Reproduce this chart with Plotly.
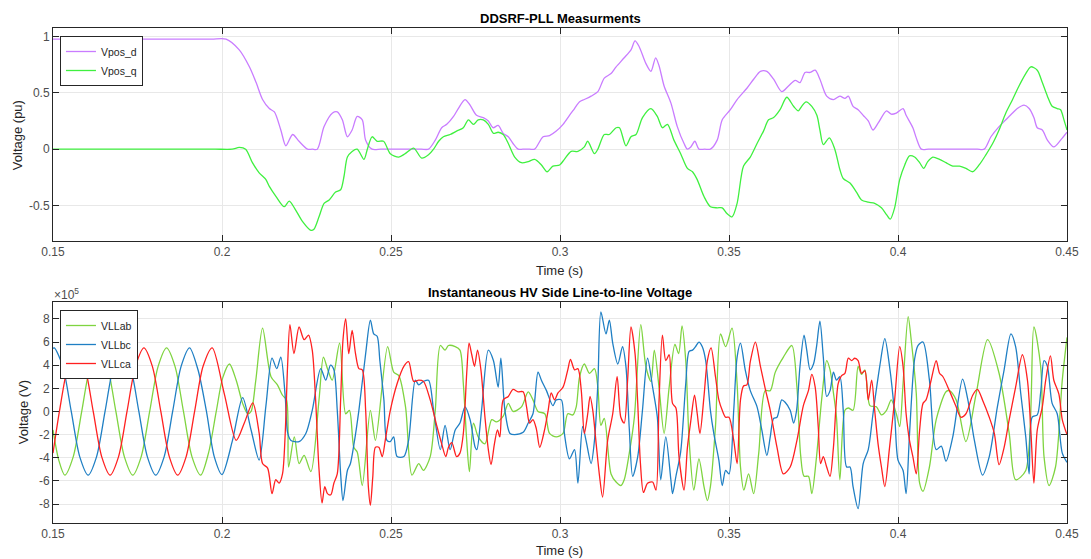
import plotly.graph_objects as go

# ---------------- Top panel: DDSRF-PLL measurements (pu) ----------------
vpos_d_pts = [
    (0.150, 0.975), (0.160, 0.975), (0.170, 0.975), (0.180, 0.975), (0.190, 0.975), (0.197, 0.975),
    (0.2012, 0.975), (0.2051, 0.88), (0.2081, 0.73), (0.2101, 0.59), (0.2120, 0.44),
    (0.2140, 0.36), (0.2155, 0.33), (0.2174, 0.17), (0.2189, 0.03), (0.2209, 0.13), (0.2228, 0.07),
    (0.2253, 0.0), (0.2267, 0.0), (0.2282, 0.0), (0.2302, 0.20), (0.2327, 0.32), (0.2341, 0.33), (0.2356, 0.26),
    (0.2371, 0.11), (0.2385, 0.17), (0.2400, 0.29), (0.2415, 0.26), (0.2425, 0.08), (0.2444, 0.0),
    (0.2470, 0.0), (0.2500, 0.0), (0.2530, 0.0), (0.2560, 0.0), (0.2590, 0.0),
    (0.2611, 0.0), (0.2631, 0.08), (0.2650, 0.19), (0.2665, 0.22), (0.2685, 0.29), (0.2699, 0.36),
    (0.2719, 0.44), (0.2734, 0.39), (0.2753, 0.30), (0.2773, 0.28), (0.2788, 0.25), (0.2802, 0.19),
    (0.2817, 0.21), (0.2832, 0.14), (0.2847, 0.11), (0.2861, 0.05), (0.2876, 0.0), (0.2890, 0.0),
    (0.2910, 0.0), (0.2925, 0.0),
    (0.2950, 0.11), (0.2969, 0.12), (0.2989, 0.16), (0.3009, 0.22), (0.3028, 0.30), (0.3043, 0.36),
    (0.3058, 0.42), (0.3072, 0.44), (0.3092, 0.47), (0.3112, 0.51), (0.3131, 0.63), (0.3151, 0.67),
    (0.3166, 0.73), (0.3190, 0.81), (0.3210, 0.88), (0.3222, 0.96), (0.3234, 0.91), (0.3254, 0.76),
    (0.3269, 0.69), (0.3283, 0.81), (0.3293, 0.74), (0.3308, 0.56), (0.3328, 0.41), (0.3347, 0.20),
    (0.3367, 0.05), (0.3377, 0.0), (0.3387, 0.02), (0.3399, 0.07), (0.3411, 0.0), (0.3428, 0.0), (0.3445, 0.0),
    (0.3465, 0.08), (0.3480, 0.26), (0.3504, 0.35), (0.3524, 0.44), (0.3553, 0.54), (0.3573, 0.62),
    (0.3593, 0.69), (0.3612, 0.69), (0.3632, 0.62), (0.3656, 0.51), (0.3676, 0.56), (0.3696, 0.61),
    (0.3710, 0.59), (0.3725, 0.68), (0.3740, 0.68), (0.3755, 0.70), (0.3769, 0.62), (0.3789, 0.47),
    (0.3809, 0.44), (0.3828, 0.47), (0.3843, 0.45), (0.3853, 0.47), (0.3867, 0.38), (0.3882, 0.35),
    (0.3897, 0.30), (0.3912, 0.25), (0.3926, 0.17), (0.3941, 0.23), (0.3966, 0.34), (0.3980, 0.31),
    (0.3995, 0.32), (0.4015, 0.36), (0.4024, 0.30), (0.4044, 0.19), (0.4054, 0.10), (0.4069, 0.0),
    (0.4090, 0.0), (0.4120, 0.0), (0.4150, 0.0), (0.4180, 0.0), (0.4210, 0.0), (0.4235, 0.0),
    (0.4255, 0.0), (0.4275, 0.11), (0.4299, 0.20), (0.4319, 0.26), (0.4339, 0.32), (0.4353, 0.36),
    (0.4373, 0.39), (0.4388, 0.36), (0.4402, 0.28), (0.4412, 0.19), (0.4427, 0.17), (0.4442, 0.08),
    (0.4461, 0.02), (0.4481, 0.08), (0.4500, 0.15),
]

vpos_q_pts = [
    (0.150, 0.0), (0.160, 0.0), (0.170, 0.0), (0.180, 0.0), (0.190, 0.0), (0.198, 0.0),
    (0.2030, 0.0), (0.2051, 0.015), (0.2070, 0.0), (0.2090, -0.12), (0.2110, -0.21),
    (0.2130, -0.27), (0.2140, -0.33), (0.2160, -0.42), (0.2184, -0.51), (0.2199, -0.46), (0.2218, -0.54),
    (0.2238, -0.64), (0.2263, -0.72), (0.2272, -0.71), (0.2287, -0.60), (0.2302, -0.48), (0.2317, -0.45),
    (0.2336, -0.38), (0.2351, -0.36), (0.2361, -0.24), (0.2371, -0.07), (0.2385, -0.02), (0.2400, 0.0),
    (0.2420, -0.09), (0.2430, 0.0), (0.2444, 0.11), (0.2459, 0.07), (0.2478, 0.07), (0.2498, -0.04),
    (0.2523, -0.07), (0.2542, -0.04), (0.2567, 0.01), (0.2591, -0.08), (0.2611, -0.05), (0.2626, 0.0),
    (0.2641, 0.07), (0.2655, 0.11), (0.2675, 0.13), (0.2694, 0.16), (0.2714, 0.19), (0.2729, 0.26),
    (0.2744, 0.22), (0.2758, 0.26), (0.2773, 0.26), (0.2788, 0.22), (0.2803, 0.14), (0.2817, 0.15),
    (0.2832, 0.13), (0.2847, 0.05), (0.2866, -0.07), (0.2886, -0.12), (0.2906, -0.11), (0.2925, -0.09),
    (0.2945, -0.14), (0.2962, -0.20), (0.2979, -0.15), (0.2999, -0.14), (0.3013, -0.09), (0.3033, -0.02),
    (0.3053, -0.02), (0.3072, 0.02), (0.3082, 0.07), (0.3102, -0.04), (0.3112, 0.0), (0.3131, 0.13),
    (0.3146, 0.13), (0.3166, 0.19), (0.3176, 0.19), (0.3195, 0.03), (0.3210, 0.11), (0.3225, 0.13),
    (0.3244, 0.28), (0.3269, 0.36), (0.3288, 0.29), (0.3303, 0.19), (0.3318, 0.22), (0.3337, 0.08),
    (0.3357, -0.04), (0.3377, -0.17), (0.3392, -0.20), (0.3406, -0.27), (0.3426, -0.42), (0.3445, -0.51),
    (0.3465, -0.52), (0.3480, -0.52), (0.3494, -0.57), (0.3509, -0.60), (0.3524, -0.48), (0.3543, -0.15),
    (0.3563, -0.07), (0.3583, 0.05), (0.3602, 0.16), (0.3617, 0.26), (0.3632, 0.28), (0.3651, 0.35),
    (0.3671, 0.46), (0.3691, 0.38), (0.3705, 0.34), (0.3715, 0.38), (0.3728, 0.42), (0.3745, 0.38),
    (0.3760, 0.30), (0.3769, 0.17), (0.3779, 0.04), (0.3797, 0.10), (0.3813, 0.0), (0.3828, -0.18),
    (0.3838, -0.26), (0.3858, -0.30), (0.3877, -0.38), (0.3892, -0.45), (0.3912, -0.47), (0.3931, -0.48),
    (0.3951, -0.52), (0.3966, -0.58), (0.3977, -0.62), (0.3990, -0.52), (0.4005, -0.27), (0.4020, -0.14),
    (0.4034, -0.06), (0.4049, -0.07), (0.4064, -0.12), (0.4076, -0.17), (0.4088, -0.11), (0.4103, -0.07),
    (0.4123, -0.09), (0.4142, -0.12), (0.4162, -0.15), (0.4182, -0.15), (0.4201, -0.17), (0.4221, -0.20),
    (0.4240, -0.14), (0.4260, -0.05), (0.4280, 0.05), (0.4299, 0.17), (0.4319, 0.32), (0.4339, 0.44),
    (0.4358, 0.56), (0.4378, 0.67), (0.4393, 0.73), (0.4412, 0.70), (0.4427, 0.59), (0.4442, 0.47),
    (0.4456, 0.38), (0.4471, 0.36), (0.4481, 0.35), (0.4491, 0.26), (0.4500, 0.17),
]

# ---------------- Bottom panel: line-to-line voltages (units of 1e5 V) ----------------
vllab_pts = [
    (0.1500, -1.6), (0.1517, -4.2), (0.1535, -5.5), (0.1560, -3.9), (0.1585, 0.0), (0.1610, 3.9),
    (0.1636, 5.5), (0.1661, 3.9), (0.1686, 0.0), (0.1711, -3.9), (0.1736, -5.5), (0.1761, -3.9),
    (0.1786, 0.0), (0.1811, 3.9), (0.1836, 5.5), (0.1861, 3.9), (0.1886, 0.0), (0.1911, -3.9),
    (0.1937, -5.5), (0.1960, -3.6), (0.1983, 0.0), (0.2002, 2.9), (0.2022, 4.1), (0.2042, 2.7),
    (0.2061, 0.7), (0.2076, -0.2), (0.2086, 0.0), (0.2100, 2.7), (0.2120, 7.2), (0.2145, 3.0),
    (0.2164, 2.3), (0.2179, 1.4), (0.2191, 1.0), (0.2197, -4.8), (0.2214, -2.2), (0.2228, -4.5),
    (0.2243, -3.8), (0.2263, -5.2), (0.2287, 1.0), (0.2300, 4.7), (0.2312, 3.7), (0.2326, 2.7),
    (0.2348, 5.9), (0.2366, -0.2), (0.2377, 0.1), (0.2390, -3.1), (0.2400, -3.5), (0.2415, -6.4),
    (0.2439, 0.1), (0.2454, -2.5), (0.2490, 5.6), (0.2508, 3.4), (0.2523, 3.1), (0.2543, 0.4),
    (0.2562, -5.5), (0.2582, -4.5), (0.2596, -5.1), (0.2616, -3.9), (0.2631, 0.1), (0.2646, 5.7),
    (0.2660, 5.3), (0.2670, 5.7), (0.2690, 5.6), (0.2704, 5.3), (0.2714, 2.4), (0.2724, -2.5),
    (0.2732, -5.2), (0.2744, -1.0), (0.2758, -2.2), (0.2778, -2.8), (0.2798, -0.7), (0.2812, -0.9),
    (0.2832, -0.4), (0.2847, 0.7), (0.2861, 0.0), (0.2886, 0.4), (0.2906, 1.7), (0.2920, 1.0),
    (0.2935, 0.0), (0.2955, -0.2), (0.2969, -1.9), (0.2989, -2.2), (0.3009, -1.9), (0.3023, -0.2),
    (0.3038, -0.3), (0.3048, 0.4), (0.3058, 3.0), (0.3072, 4.1), (0.3087, 3.3), (0.3102, 3.7),
    (0.3112, 2.1), (0.3121, -1.2), (0.3131, -0.6), (0.3151, -5.4), (0.3166, -6.1), (0.3180, -6.4),
    (0.3190, -5.9), (0.3205, -3.6), (0.3220, -0.5), (0.3239, 7.5), (0.3254, 3.9), (0.3269, 2.6),
    (0.3279, 5.3), (0.3293, 2.1), (0.3308, -1.9), (0.3323, 2.1), (0.3340, 5.8), (0.3351, 5.0),
    (0.3361, 7.4), (0.3372, 4.4), (0.3382, -2.5), (0.3396, -6.8), (0.3411, -4.1), (0.3426, -6.5),
    (0.3436, -7.7), (0.3445, -6.5), (0.3460, -1.3), (0.3475, 6.7), (0.3490, 5.6), (0.3509, 7.2),
    (0.3524, 2.4), (0.3534, -4.8), (0.3544, -6.8), (0.3558, -5.4), (0.3573, -7.1), (0.3588, -3.6),
    (0.3607, 1.8), (0.3622, 1.8), (0.3637, 3.4), (0.3661, 4.7), (0.3686, 5.7), (0.3701, 2.1),
    (0.3712, -3.8), (0.3722, -5.6), (0.3735, -5.6), (0.3745, -7.1), (0.3759, -3.9), (0.3774, 1.0),
    (0.3789, 4.4), (0.3799, 3.6), (0.3809, 1.6), (0.3818, -0.5), (0.3828, -5.9), (0.3843, 0.1),
    (0.3853, 0.3), (0.3867, 0.1), (0.3882, 3.9), (0.3892, 3.2), (0.3902, 3.6), (0.3917, 0.5),
    (0.3936, 0.4), (0.3951, -0.3), (0.3966, 0.1), (0.3980, 1.0), (0.3995, -0.2), (0.4005, -1.3),
    (0.4015, 2.4), (0.4030, 8.2), (0.4039, 6.2), (0.4054, 1.6), (0.4064, -6.2), (0.4074, -6.9),
    (0.4093, -4.8), (0.4113, -0.7), (0.4142, 1.7), (0.4152, 1.8), (0.4172, 1.0), (0.4201, -2.6),
    (0.4231, 1.5), (0.4265, 6.2), (0.4299, 3.3), (0.4329, -1.9), (0.4348, -5.9), (0.4378, -5.1),
    (0.4402, 7.3), (0.4422, 3.9), (0.4432, -3.9), (0.4447, -6.4), (0.4466, -4.8), (0.4486, 2.7),
    (0.4500, 6.4),
]

vllbc_pts = [
    (0.1500, 5.45), (0.1504, 5.5), (0.1529, 3.9), (0.1554, 0.0), (0.1579, -3.9), (0.1604, -5.5),
    (0.1629, -3.9), (0.1654, 0.0), (0.1679, 3.9), (0.1704, 5.5), (0.1729, 3.9), (0.1754, 0.0),
    (0.1779, -3.9), (0.1804, -5.5), (0.1829, -3.9), (0.1854, 0.0), (0.1879, 3.9), (0.1904, 5.5),
    (0.1929, 3.6), (0.1954, 0.0), (0.1977, -3.9), (0.2000, -5.45), (0.2031, -2.5), (0.2061, 1.2),
    (0.2086, -1.6), (0.2110, -4.2), (0.2130, 0.5), (0.2148, 4.6), (0.2162, 3.7), (0.2174, 4.7),
    (0.2187, 1.3), (0.2194, -1.8), (0.2204, -2.5), (0.2228, -2.6), (0.2248, -1.9), (0.2267, 0.1),
    (0.2292, 3.7), (0.2307, 2.7), (0.2321, 4.0), (0.2331, 3.6), (0.2341, 0.1), (0.2351, -5.4),
    (0.2358, -7.7), (0.2371, -5.1), (0.2380, -4.5), (0.2390, -2.9), (0.2405, 0.1), (0.2425, 5.0),
    (0.2439, 7.9), (0.2449, 6.7), (0.2459, 6.5), (0.2467, 4.4), (0.2479, 1.0), (0.2488, -2.5),
    (0.2498, -2.6), (0.2508, -2.2), (0.2518, -3.9), (0.2538, -3.9), (0.2552, -2.5), (0.2572, 2.7),
    (0.2582, 2.3), (0.2596, 2.6), (0.2611, 2.7), (0.2626, 0.1), (0.2646, -3.3), (0.2660, -1.2),
    (0.2675, -3.3), (0.2690, -1.6), (0.2704, -1.0), (0.2719, 0.4), (0.2734, -0.7), (0.2749, -3.1),
    (0.2754, -3.3), (0.2768, 0.1), (0.2788, 5.3), (0.2803, 4.4), (0.2817, 2.1), (0.2825, 4.6),
    (0.2837, 0.1), (0.2852, -1.9), (0.2866, -2.0), (0.2891, -1.8), (0.2906, -1.0), (0.2920, -0.2),
    (0.2935, 3.4), (0.2945, 2.7), (0.2960, 1.8), (0.2979, 0.5), (0.2989, 1.0), (0.3004, 1.0),
    (0.3013, -1.9), (0.3028, -4.1), (0.3043, -3.3), (0.3053, -6.2), (0.3067, -1.3), (0.3077, -2.5),
    (0.3092, -4.5), (0.3102, -2.5), (0.3112, 2.4), (0.3121, 8.6), (0.3136, 6.7), (0.3146, 7.9),
    (0.3156, 5.9), (0.3171, 4.1), (0.3185, 5.6), (0.3195, 3.9), (0.3205, -1.5), (0.3215, -5.6),
    (0.3230, -3.9), (0.3244, 0.1), (0.3259, 4.6), (0.3274, 2.1), (0.3288, -0.5), (0.3298, -5.9),
    (0.3313, -2.2), (0.3328, -5.9), (0.3333, -7.1), (0.3343, -5.6), (0.3357, -3.5), (0.3372, 2.4),
    (0.3382, 5.2), (0.3392, 5.3), (0.3401, 5.6), (0.3411, 6.0), (0.3421, 5.6), (0.3431, 4.4),
    (0.3445, 0.1), (0.3455, -1.9), (0.3470, -4.2), (0.3480, -6.4), (0.3490, -5.1), (0.3500, -5.4),
    (0.3514, 0.1), (0.3524, 4.7), (0.3534, 5.9), (0.3548, 3.6), (0.3563, 1.8), (0.3583, 0.4),
    (0.3597, -1.6), (0.3612, -3.8), (0.3622, -2.2), (0.3632, -0.6), (0.3642, -0.5), (0.3656, 1.0),
    (0.3666, 0.8), (0.3681, 0.1), (0.3691, -1.0), (0.3700, 0.1), (0.3710, 3.9), (0.3722, 6.6),
    (0.3730, 5.3), (0.3740, 3.6), (0.3750, 4.1), (0.3759, 5.6), (0.3769, 7.8), (0.3779, 4.7),
    (0.3789, 1.3), (0.3799, 1.8), (0.3809, 3.4), (0.3818, 2.7), (0.3828, 3.0), (0.3838, 0.1),
    (0.3848, -4.8), (0.3858, -4.8), (0.3867, -6.5), (0.3882, -8.4), (0.3897, -4.5), (0.3912, -3.3),
    (0.3926, -0.2), (0.3946, 3.9), (0.3961, 6.3), (0.3975, 3.9), (0.3990, -0.2), (0.4000, -4.2),
    (0.4015, -5.1), (0.4024, -7.1), (0.4034, -2.0), (0.4049, 4.5), (0.4059, 5.7), (0.4074, 6.0),
    (0.4093, 2.7), (0.4113, -3.3), (0.4128, -3.0), (0.4142, -4.3), (0.4162, -2.2), (0.4191, 2.8),
    (0.4206, 1.1), (0.4226, -2.5), (0.4250, -5.5), (0.4270, -3.9), (0.4294, 0.4), (0.4314, 3.6),
    (0.4334, 6.7), (0.4348, 5.6), (0.4363, 1.6), (0.4378, -2.2), (0.4388, -5.4), (0.4397, -0.5),
    (0.4412, -0.3), (0.4422, 1.6), (0.4432, 4.4), (0.4442, 3.9), (0.4456, 0.7), (0.4471, -0.2),
    (0.4486, -3.6), (0.4500, -4.4),
]

vllca_pts = [
    (0.1500, -3.6), (0.1519, 0.0), (0.1544, 3.9), (0.1569, 5.5), (0.1594, 3.9), (0.1619, 0.0),
    (0.1644, -3.9), (0.1669, -5.5), (0.1694, -3.9), (0.1719, 0.0), (0.1744, 3.9), (0.1769, 5.5),
    (0.1794, 3.9), (0.1819, 0.0), (0.1844, -3.9), (0.1869, -5.5), (0.1894, -3.9), (0.1919, 0.0),
    (0.1944, 3.9), (0.1971, 5.5), (0.2007, 1.5), (0.2042, -2.5), (0.2066, -1.0), (0.2091, 0.75),
    (0.2110, -1.9), (0.2120, -4.5), (0.2135, -4.9), (0.2148, -7.1), (0.2159, -5.9), (0.2169, -6.2),
    (0.2179, -5.4), (0.2187, -1.9), (0.2194, 3.9), (0.2201, 7.5), (0.2213, 5.0), (0.2228, 7.3),
    (0.2243, 6.2), (0.2256, 6.6), (0.2267, 5.3), (0.2277, 1.0), (0.2287, -5.0), (0.2296, -7.9),
    (0.2304, -6.5), (0.2312, -7.1), (0.2322, -7.2), (0.2331, -6.2), (0.2341, -5.4), (0.2351, 1.0),
    (0.2358, 6.2), (0.2366, 8.0), (0.2375, 5.0), (0.2385, 7.0), (0.2395, 5.0), (0.2405, 3.7),
    (0.2415, 3.6), (0.2425, 0.1), (0.2433, -6.5), (0.2439, -8.1), (0.2446, -5.7), (0.2454, -3.1),
    (0.2464, -3.1), (0.2474, -3.9), (0.2483, -2.5), (0.2498, 0.1), (0.2518, 2.4), (0.2538, 3.9),
    (0.2552, 4.3), (0.2567, 2.6), (0.2582, 2.7), (0.2596, 2.6), (0.2616, 1.0), (0.2636, -1.3),
    (0.2650, -2.8), (0.2662, -3.9), (0.2670, -3.1), (0.2680, -2.7), (0.2694, -3.9), (0.2704, -3.6),
    (0.2714, -1.9), (0.2724, 3.3), (0.2731, 5.9), (0.2739, 4.9), (0.2747, 3.9), (0.2756, 5.3),
    (0.2766, 3.6), (0.2778, -0.5), (0.2788, -3.3), (0.2796, -4.6), (0.2806, -2.8), (0.2815, -1.6),
    (0.2822, -2.2), (0.2832, 1.0), (0.2847, 1.3), (0.2861, 1.9), (0.2876, 1.7), (0.2891, 1.7),
    (0.2901, 0.4), (0.2910, -1.0), (0.2920, -0.7), (0.2930, -1.5), (0.2940, -3.1), (0.2955, -1.5),
    (0.2965, 0.1), (0.2974, 1.6), (0.2984, 1.0), (0.2994, 1.6), (0.3009, 2.1), (0.3023, 3.6),
    (0.3031, 4.5), (0.3043, 3.6), (0.3053, 3.7), (0.3063, 1.8), (0.3072, -1.9), (0.3082, -0.2),
    (0.3089, 1.3), (0.3097, 0.1), (0.3107, -2.8), (0.3117, -5.6), (0.3126, -7.4), (0.3141, -2.5),
    (0.3156, -0.2), (0.3169, 3.0), (0.3180, -0.5), (0.3190, -1.0), (0.3200, 2.7), (0.3210, 7.3),
    (0.3222, 5.0), (0.3230, 0.7), (0.3238, -4.5), (0.3247, -7.0), (0.3259, -6.2), (0.3274, -6.1),
    (0.3284, -6.8), (0.3293, 0.9), (0.3303, 6.6), (0.3313, 4.4), (0.3323, 4.9), (0.3333, 0.7),
    (0.3343, 0.3), (0.3352, -3.9), (0.3367, -6.8), (0.3377, -3.1), (0.3387, -0.8), (0.3398, 1.4),
    (0.3406, -0.2), (0.3414, -1.9), (0.3426, 1.3), (0.3436, 4.4), (0.3447, 5.5), (0.3460, 3.0),
    (0.3470, 1.0), (0.3480, 0.1), (0.3490, -0.5), (0.3500, -0.5), (0.3514, -2.5), (0.3524, -4.5),
    (0.3534, 1.0), (0.3543, 2.2), (0.3553, 2.3), (0.3563, 4.3), (0.3578, 6.0), (0.3593, 3.9),
    (0.3607, 2.0), (0.3622, 0.1), (0.3642, -3.1), (0.3661, -5.4), (0.3681, -4.8), (0.3701, -2.5),
    (0.3720, 0.5), (0.3735, 1.8), (0.3745, 3.2), (0.3755, 2.1), (0.3764, -1.3), (0.3771, -4.5),
    (0.3779, -3.9), (0.3789, -4.8), (0.3799, -5.6), (0.3809, -3.1), (0.3823, 2.4), (0.3833, 3.1),
    (0.3843, 3.3), (0.3853, 4.6), (0.3863, 4.4), (0.3872, 4.6), (0.3882, 4.4), (0.3892, 3.3),
    (0.3902, 3.5), (0.3912, 1.0), (0.3922, 2.7), (0.3931, 0.1), (0.3941, -2.8), (0.3951, -4.8),
    (0.3961, -6.5), (0.3975, -3.1), (0.3990, 1.0), (0.4005, 5.6), (0.4015, 3.9), (0.4024, -0.2),
    (0.4034, -2.5), (0.4044, -3.9), (0.4054, -5.4), (0.4064, -1.6), (0.4074, 0.7), (0.4083, 1.0),
    (0.4098, 2.7), (0.4113, 4.4), (0.4123, 3.3), (0.4133, 3.0), (0.4152, 1.8), (0.4172, 0.4),
    (0.4186, -0.5), (0.4201, -0.2), (0.4221, 1.4), (0.4235, 1.9), (0.4250, 1.0), (0.4270, -0.5),
    (0.4285, -1.9), (0.4299, -4.6), (0.4314, -3.1), (0.4329, -0.7), (0.4348, 2.1), (0.4368, 4.9),
    (0.4383, 2.7), (0.4393, -1.6), (0.4402, -6.2), (0.4412, -1.6), (0.4427, 0.4), (0.4437, 2.7),
    (0.4451, 4.8), (0.4461, 2.7), (0.4476, 1.5), (0.4486, -0.7), (0.4500, -2.0),
]

top_yticks = [-0.5, 0, 0.5, 1]
bot_yticks = [-8, -6, -4, -2, 0, 2, 4, 6, 8]
xticks = [0.15, 0.2, 0.25, 0.3, 0.35, 0.4, 0.45]
xtick_text = ["0.15", "0.2", "0.25", "0.3", "0.35", "0.4", "0.45"]

FONT = "Liberation Sans, Arial, Helvetica, sans-serif"
AXC = "#262626"
GRID = "#e8e8e8"


def split(pts):
    return [p[0] for p in pts], [p[1] for p in pts]


fig = go.Figure()

series_top = [("Vpos_d", vpos_d_pts, "#c97cff"), ("Vpos_q", vpos_q_pts, "#3ff03f")]
for name, pts, col in series_top:
    t, v = split(pts)
    fig.add_trace(go.Scatter(x=t, y=v, mode="lines", name=name, xaxis="x", yaxis="y",
                             line=dict(color=col, width=1.3, shape="spline", smoothing=0.8),
                             legend="legend"))

series_bot = [("VLLab", vllab_pts, "#7fd440"), ("VLLbc", vllbc_pts, "#1f7fc4"), ("VLLca", vllca_pts, "#ff2020")]
for name, pts, col in series_bot:
    t, v = split(pts)
    fig.add_trace(go.Scatter(x=t, y=v, mode="lines", name=name, xaxis="x2", yaxis="y2",
                             line=dict(color=col, width=1.3, shape="spline", smoothing=0.8),
                             legend="legend2"))

W, H = 1091, 559
ml, mr, mt, mb = 53, 19, 28, 36
ph = H - mt - mb


def py(y):  # pixel y -> paper y
    return (H - mb - y) / ph


def px(x):
    return (x - ml) / (W - ml - mr)


axis_common = dict(showline=True, linecolor=AXC, linewidth=1, mirror="ticks", ticks="inside",
                   ticklen=6, tickcolor=AXC, showgrid=True, gridcolor=GRID, gridwidth=1,
                   zeroline=False, tickfont=dict(family=FONT, size=12, color="#4d4d4d"))

legend_common = dict(xanchor="left", yanchor="top", bgcolor="white", bordercolor=AXC, borderwidth=1,
                     font=dict(family=FONT, size=10.5, color="#262626"), tracegroupgap=0,
                     itemwidth=30, traceorder="normal")

fig.update_layout(
    width=W, height=H, margin=dict(l=ml, r=mr, t=mt, b=mb),
    paper_bgcolor="white", plot_bgcolor="white",
    font=dict(family=FONT, size=12, color=AXC),
    xaxis=dict(domain=[0, 1], range=[0.15, 0.45], tickvals=xticks, ticktext=xtick_text,
               anchor="y", **axis_common),
    yaxis=dict(domain=[py(241), 1], range=[-0.814, 1.074], tickvals=top_yticks,
               ticktext=["-0.5", "0", "0.5", "1"], anchor="x", **axis_common),
    xaxis2=dict(domain=[0, 1], range=[0.15, 0.45], tickvals=xticks, ticktext=xtick_text,
                anchor="y2", **axis_common),
    yaxis2=dict(domain=[0, py(302)], range=[-9.64, 9.46], tickvals=bot_yticks,
                ticktext=[str(v) for v in bot_yticks], anchor="x2", **axis_common),
    legend=dict(x=px(60), y=py(36), **legend_common),
    legend2=dict(x=px(60), y=py(310), **legend_common),
    showlegend=True,
)

ann = [
    dict(text="<b>DDSRF-PLL Measurments</b>", x=0.5, y=py(18), xref="paper", yref="paper",
         showarrow=False, font=dict(family=FONT, size=13, color="#000000"), xanchor="center", yanchor="middle"),
    dict(text="<b>Instantaneous HV Side Line-to-line Voltage</b>", x=0.5, y=py(292), xref="paper", yref="paper",
         showarrow=False, font=dict(family=FONT, size=13, color="#000000"), xanchor="center", yanchor="middle"),
    dict(text="Time (s)", x=px(562), y=py(270), xref="paper", yref="paper", showarrow=False,
         font=dict(family=FONT, size=13, color="#262626"), xanchor="center", yanchor="middle"),
    dict(text="Time (s)", x=px(562), y=py(550), xref="paper", yref="paper", showarrow=False,
         font=dict(family=FONT, size=13, color="#262626"), xanchor="center", yanchor="middle"),
    dict(text="Voltage (pu)", x=px(18), y=py(135), xref="paper", yref="paper", showarrow=False, textangle=-90,
         font=dict(family=FONT, size=13, color="#262626"), xanchor="center", yanchor="middle"),
    dict(text="Voltage (V)", x=px(23), y=py(412), xref="paper", yref="paper", showarrow=False, textangle=-90,
         font=dict(family=FONT, size=13, color="#262626"), xanchor="center", yanchor="middle"),
    dict(text="×10<sup>5</sup>", x=px(52), y=py(294), xref="paper", yref="paper", showarrow=False,
         font=dict(family=FONT, size=12, color="#4d4d4d"), xanchor="left", yanchor="middle"),
]
fig.update_layout(annotations=ann)

fig.write_html("out.html")
